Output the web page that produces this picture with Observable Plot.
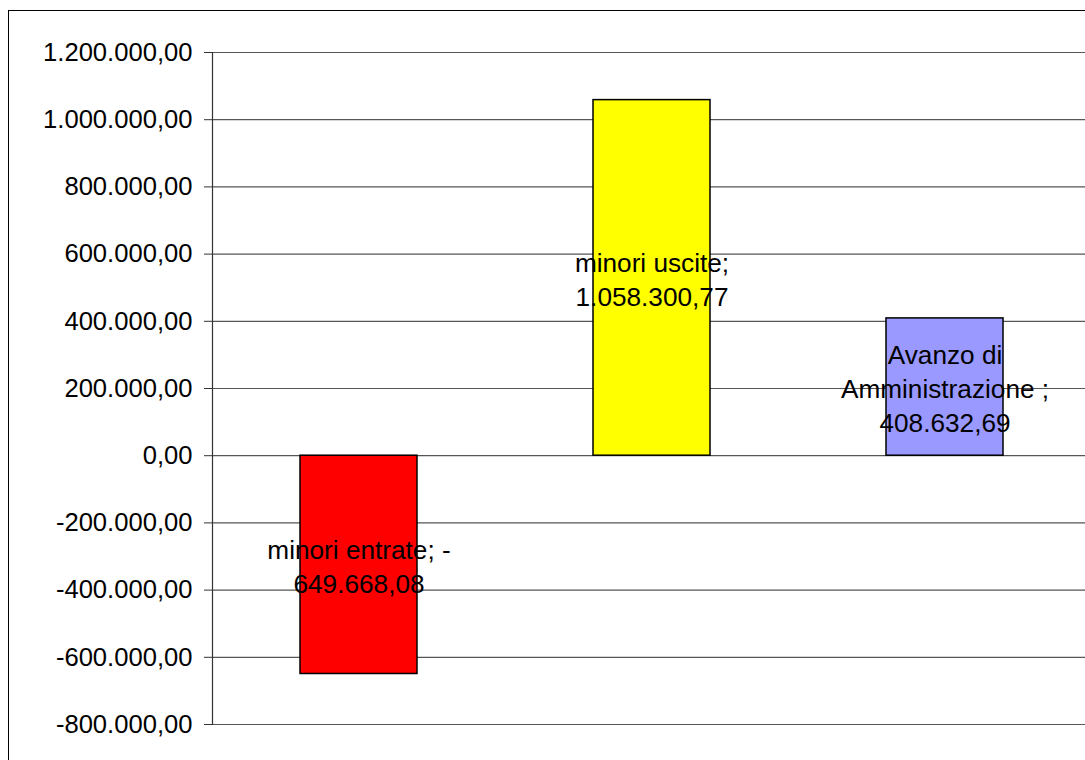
<!DOCTYPE html>
<html><head><meta charset="utf-8">
<script src="https://cdn.jsdelivr.net/npm/d3@7"></script>
<script src="https://cdn.jsdelivr.net/npm/@observablehq/plot@0.6"></script>
<style>
html,body{margin:0;padding:0;background:#fff;overflow:hidden;width:1085px;height:760px;}
#chart{position:absolute;left:0;top:0;width:1085px;height:760px;overflow:hidden;}
#frame{position:absolute;left:7.5px;top:9.5px;width:1200px;height:900px;border:1.5px solid #000;pointer-events:none;background:transparent;}
</style></head><body>
<div id="chart"></div>
<div id="frame"></div>
<script>
const categories = ["minori entrate", "minori uscite", "Avanzo di Amministrazione"];
const values = [-649668.08, 1058300.77, 408632.69];
const colors = ["#FF0000", "#FFFF00", "#9999FF"];
const labels = ["minori entrate; -\n649.668,08", "minori uscite;\n1.058.300,77", "Avanzo di\nAmministrazione ;\n408.632,69"];
const yTicks = [-800000, -600000, -400000, -200000, 0, 200000, 400000, 600000, 800000, 1000000, 1200000];

const locale = d3.formatLocale({decimal: ",", thousands: ".", grouping: [3], currency: ["", ""], minus: "-"});
const fmt = locale.format(",.2f");

const data = categories.map((c, i) => ({cat: c, value: values[i], color: colors[i], label: labels[i]}));

const chart = Plot.plot({
  width: 1092,
  height: 760,
  marginLeft: 212,
  marginRight: 0,
  marginTop: 52,
  marginBottom: 36,
  style: "max-width:none;background:transparent;font-family:'Liberation Sans',Arial,sans-serif;color:#000;",
  x: {type: "band", domain: categories, paddingInner: 0.6, paddingOuter: 0.3, axis: null},
  y: {domain: [-800000, 1200000], axis: null, label: null},
  marks: [
    Plot.ruleY(yTicks, {stroke: "#555", strokeWidth: 1.2}),
    Plot.barY(data, {x: "cat", y: "value", fill: "color", stroke: "#000", strokeWidth: 1.5}),
    Plot.text(data, {x: "cat", y: d => d.value / 2, text: "label", fontSize: 26.2, lineHeight: 1.29, fill: "#000"}),
    Plot.axisY(yTicks, {tickSize: 8, tickPadding: 12, tickFormat: fmt, fontSize: 25.6, stroke: "#333", fill: "#000", label: null}),
    Plot.frame({anchor: "left", stroke: "#333", strokeWidth: 1.2})
  ]
});
document.getElementById("chart").appendChild(chart);
</script>
</body></html>
